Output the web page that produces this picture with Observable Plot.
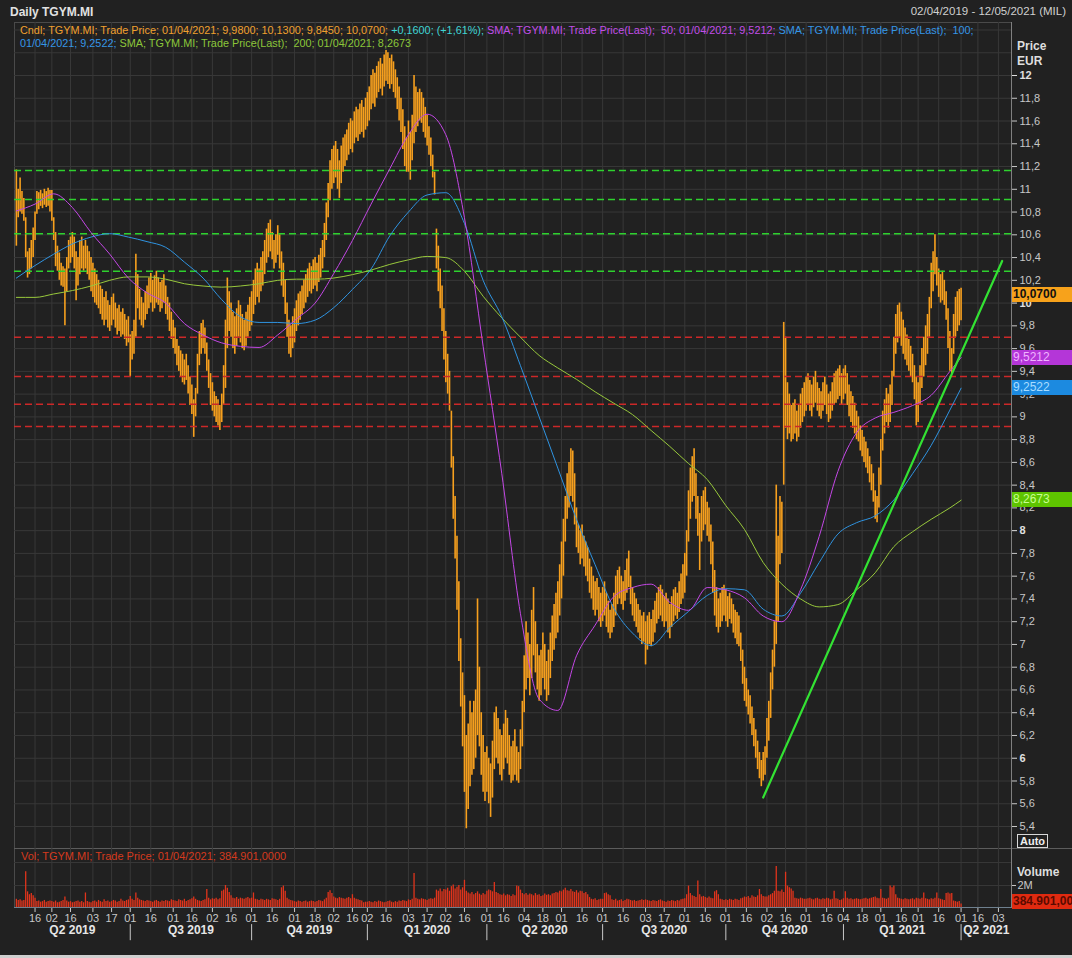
<!DOCTYPE html>
<html><head><meta charset="utf-8">
<script src="https://cdn.jsdelivr.net/npm/d3@7"></script>
<script src="https://cdn.jsdelivr.net/npm/@observablehq/plot@0.6"></script>
<style>
html,body{margin:0;padding:0;background:#212121;overflow:hidden;}
#wrap{position:relative;width:1072px;height:958px;overflow:hidden;background:#212121;font-family:"Liberation Sans",Arial,sans-serif;}
#wrap svg{position:absolute;left:0;background:transparent !important;max-width:none !important;}
.abs{position:absolute;white-space:pre;}
.tag{position:absolute;left:1012px;width:60px;height:15px;line-height:15px;font-size:12px;overflow:hidden;padding-left:1px;box-sizing:border-box;white-space:pre;}
</style></head><body><div id="wrap"></div>
<script>
// ---------------- DATA ----------------
const months = ["2019-04","2019-05","2019-06","2019-07","2019-08","2019-09","2019-10","2019-11","2019-12",
  "2020-01","2020-02","2020-03","2020-04","2020-05","2020-06","2020-07","2020-08","2020-09","2020-10","2020-11","2020-12",
  "2021-01","2021-02","2021-03","2021-04"];

// daily low (EUR), one inner list per month, in session order
const low = [
 [10.50,10.75,10.80,10.78,10.72,10.40,10.22,10.25,10.30,10.40,10.55,10.78,10.82,10.85,10.83,10.86,10.84,10.85,10.80],
 [10.72,10.55,10.32,10.28,10.20,10.15,10.14,9.80,10.10,10.30,10.35,10.40,10.30,10.02,10.15,10.25,10.30,10.28,10.30,10.25,10.20,10.10],
 [10.05,10.00,9.98,9.95,9.90,9.85,9.80,9.85,9.78,9.75,9.80,9.85,9.78,9.72,9.75,9.70,9.72,9.68,9.62,9.65],
 [9.35,9.50,9.55,9.70,9.95,9.85,9.80,9.78,9.85,9.90,9.95,10.00,9.92,9.95,10.00,9.98,9.92,9.95,10.00,9.90,9.85,9.75,9.68],
 [9.60,9.55,9.45,9.40,9.35,9.30,9.28,9.32,9.20,9.10,9.02,8.82,9.00,9.20,9.45,9.55,9.60,9.55,9.40,9.25,9.10],
 [9.05,9.00,8.95,8.92,8.88,8.95,9.10,9.25,9.60,9.75,9.70,9.60,9.55,9.62,9.70,9.65,9.60,9.58,9.62,9.70,9.75],
 [9.80,9.90,9.98,10.05,10.00,10.10,10.15,10.25,10.35,10.40,10.45,10.38,10.30,10.35,10.42,10.30,10.15,10.05,9.90,9.70,9.55,9.52,9.60],
 [9.65,9.75,9.80,9.85,9.90,9.95,10.00,10.05,10.10,10.08,10.12,10.15,10.10,10.18,10.22,10.30,10.40,10.55,10.75,10.90,11.00],
 [11.05,11.10,11.00,10.92,11.05,11.15,11.20,11.25,11.30,11.35,11.32,11.40,11.45,11.42,11.48,11.50,11.45,11.52],
 [11.55,11.60,11.70,11.75,11.72,11.80,11.85,11.88,11.82,11.90,11.95,11.92,11.88,11.92,11.85,11.80,11.70,11.60,11.50,11.35,11.20,11.15],
 [11.15,11.08,11.25,11.40,11.50,11.55,11.60,11.58,11.50,11.45,11.38,11.30,11.20,11.10,10.95,10.30,10.10,9.95,9.75,9.50],
 [9.30,9.20,9.05,8.55,8.10,7.75,7.30,6.85,6.45,6.10,5.70,5.38,5.55,5.75,5.85,5.90,6.00,6.20,6.10,5.85,5.70,5.62],
 [5.70,5.60,5.48,5.65,5.90,6.00,5.95,5.85,5.80,5.90,6.00,5.95,5.85,5.78,5.80,5.85,5.80,5.78,5.90,6.10],
 [6.40,6.60,6.70,6.55,6.70,6.90,6.75,6.60,6.50,6.55,6.70,6.60,6.50,6.55,6.70,6.85,6.95,7.05,7.10,7.25],
 [7.40,7.60,7.90,8.10,8.20,8.30,8.25,8.05,7.85,7.80,7.70,7.75,7.68,7.60,7.55,7.45,7.40,7.30,7.25,7.30,7.20,7.15],
 [7.20,7.25,7.15,7.10,7.05,7.10,7.15,7.25,7.35,7.40,7.35,7.30,7.38,7.45,7.50,7.35,7.25,7.20,7.15,7.10,7.05,7.00,7.02],
 [6.82,6.95,7.00,6.98,7.02,7.10,7.18,7.22,7.25,7.20,7.15,7.20,7.10,7.05,7.15,7.20,7.25,7.22,7.28,7.35,7.40],
 [7.45,7.60,7.90,8.10,8.25,8.30,8.10,7.95,7.65,7.90,8.00,8.05,7.95,7.90,7.70,7.45,7.25,7.15,7.10,7.15,7.20,7.25],
 [7.20,7.15,7.22,7.18,7.10,7.05,7.00,6.98,6.85,6.65,6.50,6.45,6.38,6.30,6.20,6.10,6.00,5.90,5.82,5.75,5.80,5.85],
 [6.00,6.15,6.35,6.60,6.80,7.00,7.20,7.70,7.80,8.40,8.90,8.80,8.85,8.78,8.80,8.85,8.78,8.82,8.90,8.95,9.00],
 [9.05,9.10,9.05,9.00,9.08,9.12,9.05,9.00,8.98,9.05,9.10,9.02,8.95,8.98,9.05,9.10,9.12,9.15,9.18,9.10],
 [9.15,9.20,9.10,9.00,8.95,8.90,8.85,8.80,8.78,8.70,8.65,8.60,8.55,8.50,8.42,8.35,8.25,8.10,8.07,8.20],
 [8.40,8.70,8.85,8.95,8.90,8.95,9.10,9.35,9.55,9.65,9.70,9.62,9.55,9.50,9.45,9.40,9.35,9.30,9.15,8.92],
 [8.95,9.10,9.25,9.35,9.45,9.55,9.70,9.95,10.10,10.25,10.15,10.05,10.00,10.02,9.98,9.85,9.60,9.40,9.38,9.55,9.70,9.75,9.80],
 [9.845]
];
// daily high (EUR)
const high = [
 [11.17,11.00,11.10,10.98,10.92,10.75,10.45,10.48,10.55,10.66,10.80,10.98,10.97,10.99,10.96,11.00,10.98,11.01,10.99],
 [10.99,10.75,10.62,10.50,10.44,10.35,10.32,10.30,10.40,10.55,10.58,10.62,10.58,10.45,10.40,10.55,10.58,10.50,10.55,10.50,10.45,10.40],
 [10.35,10.30,10.25,10.20,10.15,10.12,10.05,10.10,10.02,9.98,10.05,10.08,10.00,9.95,9.98,9.92,9.95,9.90,9.85,9.88],
 [9.72,9.75,9.85,10.43,10.25,10.12,10.05,10.00,10.10,10.15,10.22,10.26,10.20,10.24,10.28,10.22,10.18,10.20,10.25,10.15,10.05,10.00,9.92],
 [9.85,9.78,9.68,9.62,9.58,9.55,9.50,9.55,9.45,9.35,9.28,9.15,9.25,9.55,9.75,9.82,9.85,9.78,9.65,9.50,9.38],
 [9.30,9.22,9.18,9.15,9.10,9.20,9.45,9.85,10.22,10.10,10.00,9.92,9.88,9.95,10.02,9.98,9.90,9.85,9.92,9.98,10.05],
 [10.10,10.20,10.30,10.35,10.30,10.40,10.45,10.55,10.65,10.70,10.73,10.62,10.55,10.60,10.68,10.60,10.45,10.35,10.20,10.00,9.85,9.80,9.88],
 [9.95,10.02,10.08,10.10,10.15,10.20,10.25,10.30,10.35,10.32,10.38,10.40,10.35,10.42,10.48,10.55,10.70,10.88,11.05,11.25,11.35],
 [11.38,11.42,11.35,11.25,11.38,11.45,11.48,11.52,11.58,11.62,11.60,11.68,11.72,11.70,11.75,11.78,11.72,11.80],
 [11.85,11.90,12.00,12.05,12.02,12.08,12.12,12.15,12.10,12.18,12.22,12.20,12.15,12.18,12.12,12.05,11.98,11.90,11.80,11.70,11.55,11.45],
 [11.60,11.50,11.65,12.00,11.90,11.85,11.88,11.85,11.80,11.72,11.65,11.55,11.45,11.30,11.15,10.65,10.50,10.30,10.15,9.95],
 [9.75,9.55,9.40,9.05,8.65,8.30,7.95,7.55,7.05,6.75,6.55,6.20,6.30,6.50,6.40,6.50,6.60,7.40,6.80,6.40,6.20,6.05],
 [6.10,6.00,5.95,6.15,6.40,6.45,6.35,6.25,6.20,6.30,6.42,6.35,6.20,6.10,6.15,6.25,6.10,6.05,6.25,6.50],
 [6.90,7.20,7.10,7.00,7.30,7.50,7.20,7.00,6.90,6.95,7.10,7.00,6.85,6.95,7.10,7.25,7.35,7.45,7.55,7.70],
 [7.90,8.10,8.30,8.50,8.60,8.72,8.70,8.50,8.20,8.05,8.00,8.05,7.95,7.90,7.85,7.75,7.68,7.60,7.55,7.58,7.50,7.45],
 [7.50,7.55,7.45,7.38,7.30,7.35,7.45,7.60,7.65,7.68,7.60,7.55,7.65,7.75,7.82,7.60,7.50,7.45,7.40,7.35,7.30,7.25,7.28],
 [7.20,7.25,7.28,7.22,7.30,7.38,7.45,7.50,7.52,7.48,7.42,7.45,7.40,7.35,7.42,7.48,7.50,7.45,7.55,7.62,7.70],
 [7.80,8.00,8.35,8.55,8.65,8.72,8.50,8.30,8.15,8.30,8.35,8.38,8.25,8.20,8.05,7.90,7.65,7.50,7.40,7.45,7.50,7.52],
 [7.48,7.42,7.45,7.40,7.35,7.30,7.28,7.25,7.10,6.95,6.80,6.70,6.60,6.55,6.45,6.35,6.25,6.15,6.05,5.98,6.05,6.10],
 [6.35,6.50,6.75,6.95,7.20,8.40,7.95,8.30,8.25,9.83,9.70,9.30,9.20,9.10,9.12,9.15,9.05,9.10,9.20,9.25,9.30],
 [9.35,9.38,9.32,9.28,9.35,9.40,9.30,9.25,9.22,9.30,9.35,9.28,9.20,9.22,9.30,9.38,9.40,9.42,9.45,9.38],
 [9.42,9.45,9.38,9.28,9.22,9.18,9.12,9.05,9.00,8.92,8.88,8.82,8.78,8.72,8.65,8.58,8.50,8.35,8.30,8.55],
 [8.80,9.05,9.15,9.25,9.20,9.28,9.40,9.70,9.90,9.98,10.00,9.92,9.85,9.78,9.72,9.68,9.62,9.55,9.45,9.35],
 [9.30,9.45,9.60,9.70,9.80,9.90,10.05,10.35,10.45,10.60,10.40,10.30,10.25,10.28,10.20,10.10,9.95,9.75,9.60,9.90,10.05,10.10,10.12],
 [10.13]
];
// daily volume (millions of shares)
const volume = [
 [0.80,0.70,0.75,0.65,0.70,3.20,1.45,1.20,1.30,1.10,0.90,0.60,0.65,0.55,0.60,0.70,0.55,0.60,0.65],
 [0.60,0.55,0.65,0.50,0.55,0.60,0.70,1.00,0.65,0.55,0.60,0.50,0.55,0.60,0.65,0.55,0.60,0.50,1.35,0.60,0.55,0.50],
 [0.60,0.65,0.55,0.70,0.60,0.55,0.75,0.60,0.65,0.55,0.60,0.70,0.65,0.55,0.60,0.80,0.65,0.60,0.70,0.75],
 [1.05,0.80,0.70,1.35,0.90,0.75,0.70,0.65,0.60,0.70,0.65,0.60,0.55,0.65,0.70,0.60,0.55,0.65,0.60,0.70,0.65,0.60,0.75],
 [0.70,0.65,0.60,0.75,0.70,0.65,0.80,0.60,0.70,0.75,0.85,1.00,0.80,0.70,0.65,0.60,0.70,0.75,1.65,0.90,0.75],
 [0.85,0.80,0.90,0.75,0.85,1.50,1.60,2.00,1.75,1.40,1.10,0.90,0.85,0.95,0.80,0.90,0.85,0.80,0.90,0.95,0.85],
 [0.90,1.35,0.80,0.75,0.70,0.80,0.75,0.70,0.80,0.75,0.70,0.85,0.80,0.75,0.70,0.80,1.80,1.95,1.50,0.90,0.75,0.70,0.65],
 [0.60,0.55,0.65,0.60,0.55,0.60,0.65,0.55,0.60,0.65,0.60,0.55,0.60,0.70,0.65,0.60,0.75,0.90,1.40,1.55,1.30],
 [1.00,0.90,0.85,0.95,0.90,0.85,0.80,0.90,0.95,0.85,1.20,0.90,0.80,0.75,0.70,0.65,0.50,0.55],
 [0.55,0.60,0.55,0.50,0.60,0.55,0.65,0.60,0.55,0.50,0.55,0.60,0.65,0.55,0.50,0.60,0.55,0.65,0.60,0.70,0.65,0.60],
 [0.75,0.70,0.80,3.05,0.90,0.80,0.75,0.85,0.80,0.75,0.70,0.80,0.85,0.80,0.90,1.60,1.50,1.70,1.45,1.65],
 [1.60,1.75,1.50,1.90,2.05,1.70,1.85,2.00,1.60,1.80,2.45,1.50,1.35,1.25,1.40,1.20,1.30,1.45,1.25,1.15,1.30,1.20],
 [1.50,1.60,1.55,1.45,2.25,1.40,1.30,1.20,1.15,1.25,1.10,1.20,1.15,1.05,1.20,1.10,1.95,1.90,1.60,1.30],
 [1.20,1.30,1.15,1.25,1.20,1.10,1.30,1.15,1.20,1.05,1.10,1.25,1.15,1.20,1.10,1.25,1.30,1.40,1.35,1.50],
 [1.45,1.60,1.75,1.55,1.50,1.65,1.45,1.40,1.55,1.35,1.50,1.45,1.30,1.40,1.20,0.95,0.80,0.75,0.85,0.70,0.75,0.80],
 [0.80,1.30,1.35,1.20,1.10,0.75,0.70,0.80,0.65,0.70,0.75,0.60,0.70,0.80,0.75,0.70,0.65,0.70,0.60,0.65,0.70,0.75,0.70],
 [0.75,0.70,0.65,0.60,0.70,0.65,0.60,0.70,0.75,0.65,0.60,0.55,0.65,0.60,0.70,0.65,0.60,0.70,0.65,0.75,0.80],
 [0.85,1.20,1.95,1.30,1.10,1.05,0.95,2.40,1.20,1.00,1.05,0.95,0.90,1.00,0.90,0.85,1.45,1.55,1.20,0.80,0.75,0.70],
 [0.75,0.70,0.80,0.75,0.70,0.80,0.75,0.70,0.85,0.90,1.00,0.95,1.05,0.90,1.10,1.00,0.95,1.10,1.65,1.20,1.05,1.00],
 [1.00,1.10,1.20,1.30,1.50,3.65,1.50,1.45,1.60,1.40,3.15,1.95,1.80,1.70,1.50,0.90,0.85,0.80,0.90,0.85,0.80],
 [0.80,0.85,0.90,0.80,0.75,0.85,0.90,0.80,0.75,0.85,0.80,0.90,0.85,0.75,0.80,1.50,0.85,0.80,0.70,0.75],
 [0.85,1.45,0.90,0.80,0.85,0.75,0.80,0.85,0.80,0.75,0.80,0.85,0.90,0.80,0.85,0.90,0.95,1.00,0.90,0.85],
 [1.65,0.90,0.85,0.80,0.90,1.95,1.80,1.95,1.20,0.90,0.85,0.80,0.75,0.85,0.80,0.75,0.80,0.85,0.75,0.90],
 [0.85,0.80,0.90,1.35,0.85,0.80,0.75,0.85,0.80,0.90,1.35,0.85,0.80,0.75,0.70,1.30,1.35,1.25,1.30,0.65,0.60,0.55,0.60],
 [0.384901]
];

// moving averages sampled every 10 sessions (session 0 = 02/04/2019), last at session 506 (01/04/2021)
const smaSession = [0,10,20,30,40,50,60,70,80,90,100,110,120,130,140,150,160,170,180,190,200,210,220,230,240,250,
  260,270,280,290,300,310,320,330,340,350,360,370,380,390,400,410,420,430,440,450,460,470,480,490,500,506];
const sma50 = [10.81,10.87,10.96,10.84,10.62,10.43,10.22,10.09,10.00,9.82,9.72,9.65,9.62,9.61,9.72,9.86,10.00,10.26,10.55,10.87,
  11.18,11.48,11.66,11.48,10.75,9.62,8.50,7.27,6.52,6.42,6.90,7.17,7.42,7.50,7.53,7.37,7.30,7.50,7.48,7.41,7.25,7.20,7.48,7.95,
  8.52,8.86,8.99,9.04,9.10,9.19,9.40,9.5212];
const sma100 = [10.22,10.33,10.43,10.52,10.58,10.61,10.58,10.54,10.49,10.36,10.22,10.03,9.88,9.83,9.83,9.82,9.85,9.96,10.12,10.30,
  10.59,10.80,10.95,10.97,10.70,10.20,9.88,9.45,9.00,8.55,8.10,7.70,7.32,7.10,6.99,7.15,7.29,7.43,7.49,7.48,7.31,7.25,7.45,7.72,
  7.97,8.07,8.13,8.27,8.50,8.75,9.06,9.2522];
const sma200 = [10.05,10.05,10.08,10.11,10.15,10.20,10.23,10.23,10.21,10.17,10.15,10.14,10.15,10.17,10.20,10.21,10.21,10.22,10.25,10.29,
  10.34,10.38,10.41,10.40,10.28,10.06,9.87,9.70,9.54,9.43,9.33,9.22,9.12,9.02,8.88,8.74,8.59,8.45,8.22,8.01,7.72,7.53,7.40,7.33,
  7.35,7.48,7.63,7.86,7.99,8.10,8.20,8.2673];

// horizontal support / resistance levels (EUR)
const greenLevels = [11.165, 10.91, 10.61, 10.28];
const redLevels = [9.70, 9.355, 9.11, 8.915];
// drawn trend line
const trendDates = ["2020-10-29", "2021-05-05"];
const trendPrices = [5.655, 10.37];

const lastClose = 10.07;
const lastVolume = 0.384901; // millions

// ---------------- BUILD ----------------
const FONT = "'Liberation Sans', Arial, sans-serif";
const GRID = "#383838";
const ORANGE = "#f7a01e";
const iso = d3.utcFormat("%Y-%m-%d");
const holidays = new Set(["2019-04-19","2019-04-22","2019-05-01","2019-08-15","2019-12-24","2019-12-25","2019-12-26","2019-12-31",
  "2020-01-01","2020-04-10","2020-04-13","2020-05-01","2020-12-24","2020-12-25","2020-12-31","2021-01-01","2021-04-02","2021-04-05"]);
const sessions = d3.utcDays(new Date("2019-04-02"), new Date("2021-06-01"))
  .filter(d => d.getUTCDay() !== 0 && d.getUTCDay() !== 6 && !holidays.has(iso(d)));
const idxOf = new Map(sessions.map((d, i) => [iso(d), i]));

const candles = [];
months.forEach((m, j) => {
  const md = sessions.filter(d => iso(d).slice(0, 7) === m);
  low[j].forEach((lo, k) => {
    if (k >= md.length) return;
    candles.push({i: idxOf.get(iso(md[k])), lo, hi: high[j][k], v: volume[j][k]});
  });
});
const smaData = (vals) => smaSession.map((s, k) => ({i: s, v: vals[k]}));
const trend = trendDates.map((d, k) => ({i: idxOf.get(d), p: trendPrices[k]}));

const X0 = -1, X1 = 533;
// date ticks: first session on/after the 1st and the 16th of each month
const tickList = [];
for (let m = 0; m < 26; m++) for (const dd of [1, 16]) {
  const t = new Date(Date.UTC(2019, 3 + m, dd));
  const s = sessions.find(d => d >= t);
  if (s) tickList.push({i: idxOf.get(iso(s)), label: d3.utcFormat("%d")(s)});
}
const ticks = tickList.filter(t => t.i > 4 && t.i < X1 - 1);
const tickIdx = ticks.map(t => t.i);
const tickLab = new Map(ticks.map(t => [t.i, t.label]));
const qStarts = [];
for (let q = 0; q < 9; q++) {
  const t = new Date(Date.UTC(2019, 3 + 3 * q, 1));
  const s = sessions.find(d => d >= t);
  qStarts.push({i: idxOf.get(iso(s)), label: `Q${Math.floor(t.getUTCMonth() / 3) + 1} ${t.getUTCFullYear()}`});
}
const quarters = qStarts.map((q, k) => ({
  c: ((k === 0 ? X0 : q.i) + (k + 1 < qStarts.length ? qStarts[k + 1].i : X1)) / 2, label: q.label}));
const separators = qStarts.slice(1).map(q => q.i);

const comma = d => String(Math.round(d * 10) / 10).replace(".", ",");
const f4 = v => v.toFixed(4).replace(".", ",");
const fVol = v => d3.format(",.4f")(Math.round(v * 1e6)).replace(/[,.]/g, c => (c === "," ? "." : ","));
const priceGrid = d3.range(27, 63).map(k => k / 5);
const normalTicks = d3.range(27, 61).filter(k => k % 10 !== 0).map(k => k / 5);
const boldTicks = [6, 8, 10, 12];

const PTOP = 22, PH = 826;
const pricePlot = Plot.plot({
  width: 1072, height: PH, marginLeft: 14, marginRight: 61, marginTop: 0, marginBottom: 0,
  style: {background: "transparent", color: "#c8c8c8", fontFamily: FONT, fontSize: "11px", overflow: "visible"},
  x: {domain: [X0, X1], axis: null},
  y: {domain: [5.2067, 12.4658], axis: null},
  marks: [
    Plot.ruleY(priceGrid, {stroke: GRID}),
    Plot.ruleX(tickIdx, {stroke: GRID}),
    Plot.ruleX(candles, {x: "i", y1: "lo", y2: "hi", stroke: ORANGE, strokeWidth: 1.6}),
    Plot.ruleY(greenLevels, {stroke: "#2ed12e", strokeWidth: 1.5, strokeDasharray: "7,4"}),
    Plot.ruleY(redLevels, {stroke: "#cc2828", strokeWidth: 1.5, strokeDasharray: "7,4"}),
    Plot.line(smaData(sma200), {x: "i", y: "v", stroke: "#98c83c", strokeWidth: 1, curve: "monotone-x"}),
    Plot.line(smaData(sma100), {x: "i", y: "v", stroke: "#2f93e0", strokeWidth: 1, curve: "monotone-x"}),
    Plot.line(smaData(sma50), {x: "i", y: "v", stroke: "#c447e6", strokeWidth: 1, curve: "monotone-x"}),
    Plot.line(trend, {x: "i", y: "p", stroke: "#33e233", strokeWidth: 2.2}),
    Plot.axisY({anchor: "right", ticks: normalTicks, tickFormat: comma, tickSize: 5, tickPadding: 3, fontSize: 11, color: "#c8c8c8", label: null}),
    Plot.axisY({anchor: "right", ticks: boldTicks, tickFormat: comma, tickSize: 5, tickPadding: 3, fontSize: 11, fontWeight: "bold", color: "#e0e0e0", label: null})
  ]
});

const VTOP = 848, VH = 110;
const volPlot = Plot.plot({
  width: 1072, height: VH, marginLeft: 14, marginRight: 61, marginTop: 0, marginBottom: 50,
  style: {background: "transparent", color: "#c8c8c8", fontFamily: FONT, fontSize: "11px", overflow: "visible"},
  x: {domain: [X0, X1], axis: null},
  y: {domain: [0, 5.217], axis: null},
  marks: [
    Plot.ruleX(tickIdx, {stroke: GRID}),
    Plot.ruleY([2, 4], {stroke: GRID}),
    Plot.ruleX(candles, {x: "i", y: "v", stroke: "#e0341c", strokeWidth: 1.3}),
    Plot.axisX({ticks: tickIdx, tickFormat: i => tickLab.get(i), tickSize: 4, tickPadding: 2, fontSize: 11, color: "#c8c8c8", label: null}),
    Plot.text(quarters, {x: "c", text: "label", frameAnchor: "bottom", dy: 25, fill: "#e6e6e6", fontWeight: "bold", fontSize: 12}),
    Plot.ruleX(separators, {y1: -1.4, y2: -2.8, stroke: "#c8c8c8"}),
    Plot.axisY({anchor: "right", ticks: [2], tickFormat: () => "2M", tickSize: 4, tickPadding: 2, fontSize: 11, color: "#c8c8c8", label: null})
  ]
});

const wrap = document.getElementById("wrap");
function div(html, css, cls = "abs") { const e = document.createElement("div"); e.className = cls; e.style.cssText = css; e.innerHTML = html; wrap.appendChild(e); return e; }

// frame lines
div("", "left:14px;top:22px;width:997px;height:1px;background:#4a4a4a");
div("", "left:14px;top:22px;width:1px;height:886px;background:#4a4a4a");
div("", "left:14px;top:848px;width:1058px;height:1px;background:#5c5c5c");
pricePlot.style.top = PTOP + "px"; wrap.appendChild(pricePlot);
volPlot.style.top = VTOP + "px"; wrap.appendChild(volPlot);
div("", "left:1011px;top:22px;width:1px;height:886px;background:#808080");
div("", "left:14px;top:907px;width:997px;height:1px;background:#6e808e");
div("", "left:0;top:955px;width:1072px;height:3px;background:#cfcfcf");

// header
div("Daily TGYM.MI", "left:10px;top:5px;font-size:12px;font-weight:bold;color:#e2e2e2");
div("02/04/2019 - 12/05/2021 (MIL)", "right:6px;top:5px;font-size:11.5px;color:#d0d0d0");
div('<span style="color:#f0a02e">Cndl; TGYM.MI; Trade Price; 01/04/2021; 9,9800; 10,1300; 9,8450; 10,0700; </span><span style="color:#3fd4d4">+0,1600; (+1,61%); </span><span style="color:#c24ee8">SMA; TGYM.MI; Trade Price(Last);  50; 01/04/2021; 9,5212; </span><span style="color:#3596e6">SMA; TGYM.MI; Trade Price(Last);  100;</span>\n<span style="color:#3596e6">01/04/2021; 9,2522; </span><span style="color:#8cc63a">SMA; TGYM.MI; Trade Price(Last);  200; 01/04/2021; 8,2673</span>',
  "left:20px;top:24px;font-size:10.85px;line-height:13px");
div("Vol; TGYM.MI; Trade Price; 01/04/2021; 384.901,0000", "left:21px;top:850px;font-size:11px;color:#d43a1e");

// right axis captions
div("Price", "left:1017px;top:39px;font-size:12px;font-weight:bold;color:#dedede");
div("EUR", "left:1017px;top:54px;font-size:12px;font-weight:bold;color:#dedede");
div("Auto", "left:1017px;top:834px;font-size:11px;font-weight:bold;color:#eeeeee;border:1px solid #d8d8d8;padding:0 2px;line-height:12px");
div("Volume", "left:1017px;top:865px;font-size:12px;font-weight:bold;color:#dedede");

// value tags on the right axis
const py = v => PTOP + pricePlot.scale("y").apply(v);
const vy = v => VTOP + volPlot.scale("y").apply(v);
const tag = (txt, y, bg, fg, bold) => div(txt, `top:${Math.round(y - 7.5)}px;background:${bg};color:${fg};font-weight:${bold ? "bold" : "normal"}`, "tag");
const l50 = sma50[sma50.length - 1], l100 = sma100[sma100.length - 1], l200 = sma200[sma200.length - 1];
tag(f4(lastClose), py(lastClose), "#f7a21b", "#111", true);
tag(f4(l50), py(l50), "#b436d8", "#f0b4ff", false);
tag(f4(l100), py(l100), "#1c8ae0", "#a8dcff", false);
tag(f4(l200), py(l200), "#5ec400", "#c8ff90", false);
tag(fVol(lastVolume), vy(lastVolume) - 2, "#e02a10", "#5a0a00", true);
</script></body></html>
